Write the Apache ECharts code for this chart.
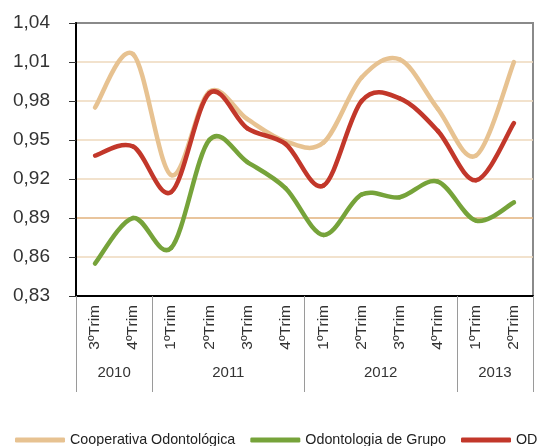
<!DOCTYPE html>
<html>
<head>
<meta charset="utf-8">
<script src="https://cdn.jsdelivr.net/npm/echarts@6/dist/echarts.min.js"></script>
<style>
  html, body { margin: 0; padding: 0; background: #fff; }
  #chart { width: 539px; height: 446px; }
</style>
</head>
<body>
<div id="chart"></div>
<script>
var quarters = ['3ºTrim', '4ºTrim', '1ºTrim', '2ºTrim', '3ºTrim', '4ºTrim', '1ºTrim', '2ºTrim', '3ºTrim', '4ºTrim', '1ºTrim', '2ºTrim'];
var years = ['2010', '2011', '2012', '2013'];
var yearSpans = [2, 4, 4, 2]; // trimestres por ano
var cooperativa = [0.975, 1.016, 0.923, 0.987, 0.966, 0.949, 0.948, 0.998, 1.012, 0.974, 0.938, 1.010];
var grupo = [0.855, 0.890, 0.867, 0.950, 0.933, 0.913, 0.877, 0.908, 0.906, 0.918, 0.888, 0.902];
var od = [0.938, 0.945, 0.910, 0.986, 0.959, 0.947, 0.915, 0.980, 0.982, 0.957, 0.919, 0.963];
var yTicks = [0.83, 0.86, 0.89, 0.92, 0.95, 0.98, 1.01, 1.04];

var FONT = '"Liberation Sans", Arial, sans-serif';

// eixo dos anos: meio-trimestres, separadores nas fronteiras, rotulo no centro do grupo
var yearSlots = [];
var yearBounds = [0];
var yearCenters = {};
var cum = 0;
for (var i = 0; i < years.length; i++) {
  yearCenters[2 * cum + yearSpans[i]] = years[i];
  cum += yearSpans[i];
  yearBounds.push(2 * cum);
}
for (var k = 0; k <= 2 * cum; k++) {
  yearSlots.push(yearCenters[k] || '');
}

// cores das linhas de grade (0,89 mais alaranjada)
var gridColors = yTicks.map(function(v, i) {
  if (i == 0) return 'transparent';
  if (i == yTicks.length - 1) return '#8a8a8a';
  return Math.abs(v - 0.89) < 1e-6 ? '#e2b27c' : '#eed8bc';
});

// curva suavizada estilo Excel (Catmull-Rom), um trecho por ponto
function splineSeries(name, values, color) {
  return {
    name: name,
    type: 'custom',
    data: values.map(function(v, i) { return [i, v]; }),
    encode: { x: 0, y: 1 },
    itemStyle: { color: color },
    renderItem: function(params, api) {
      var i = params.dataIndex;
      var n = values.length;
      if (i >= n - 1) return null;
      var p = function(j) {
        j = Math.max(0, Math.min(n - 1, j));
        return api.coord([j, values[j]]);
      };
      var p0 = p(i - 1), p1 = p(i), p2 = p(i + 1), p3 = p(i + 2);
      return {
        type: 'bezierCurve',
        shape: {
          x1: p1[0], y1: p1[1],
          x2: p2[0], y2: p2[1],
          cpx1: p1[0] + (p2[0] - p0[0]) / 6,
          cpy1: p1[1] + (p2[1] - p0[1]) / 6,
          cpx2: p2[0] - (p3[0] - p1[0]) / 6,
          cpy2: p2[1] - (p3[1] - p1[1]) / 6
        },
        style: { stroke: color, lineWidth: 4.5, fill: null, lineCap: 'round' }
      };
    }
  };
}

var chart = echarts.init(document.getElementById('chart'), null, { renderer: 'canvas' });

chart.setOption({
  animation: false,
  backgroundColor: '#fff',
  grid: {
    left: 76,
    right: 6,
    top: 23,
    bottom: 150,
    show: true,
    borderColor: '#8a8a8a',
    borderWidth: 2
  },
  legend: {
    left: 10,
    top: 428,
    width: 900,
    icon: 'roundRect',
    itemWidth: 50,
    itemHeight: 5,
    itemGap: 15,
    textStyle: {
      fontFamily: FONT,
      fontSize: 14.3,
      color: '#222'
    },
    data: ['Cooperativa Odontológica', 'Odontologia de Grupo', 'OD']
  },
  xAxis: [{
    type: 'category',
    data: quarters,
    boundaryGap: true,
    axisLine: { lineStyle: { color: '#000', width: 2 } },
    axisTick: { length: 56, lineStyle: { color: '#9a9a9a', width: 1 } },
    axisLabel: {
      interval: 0,
      rotate: 90,
      margin: 9,
      fontFamily: FONT,
      fontSize: 15.5,
      color: '#333'
    }
  }, {
    type: 'category',
    data: yearSlots,
    boundaryGap: false,
    position: 'bottom',
    axisLine: { show: false },
    axisTick: {
      interval: function(index) { return yearBounds.indexOf(index) >= 0; },
      length: 96,
      lineStyle: { color: '#9a9a9a', width: 1 }
    },
    axisLabel: {
      interval: function(index) { return yearCenters[index] !== undefined; },
      margin: 69,
      fontFamily: FONT,
      fontSize: 15,
      color: '#333'
    }
  }, {
    type: 'category',
    data: quarters,
    boundaryGap: true,
    axisLine: { show: false },
    axisTick: { inside: true, length: 6, lineStyle: { color: '#000', width: 1 } },
    axisLabel: { show: false }
  }],
  yAxis: {
    type: 'value',
    min: 0.83,
    max: 1.04,
    interval: 0.03,
    axisLine: { show: true, lineStyle: { color: '#000', width: 2 } },
    axisTick: { show: true, length: 7, lineStyle: { color: '#333', width: 1 } },
    axisLabel: {
      margin: 26,
      fontFamily: FONT,
      fontSize: 19,
      color: '#333',
      formatter: function(v) { return v.toFixed(2).replace('.', ','); }
    },
    splitLine: { lineStyle: { color: gridColors, width: 1.5 } }
  },
  series: [
    splineSeries('Cooperativa Odontológica', cooperativa, '#e7c291'),
    splineSeries('Odontologia de Grupo', grupo, '#76a33a'),
    splineSeries('OD', od, '#c2372a')
  ]
});
</script>
</body>
</html>
